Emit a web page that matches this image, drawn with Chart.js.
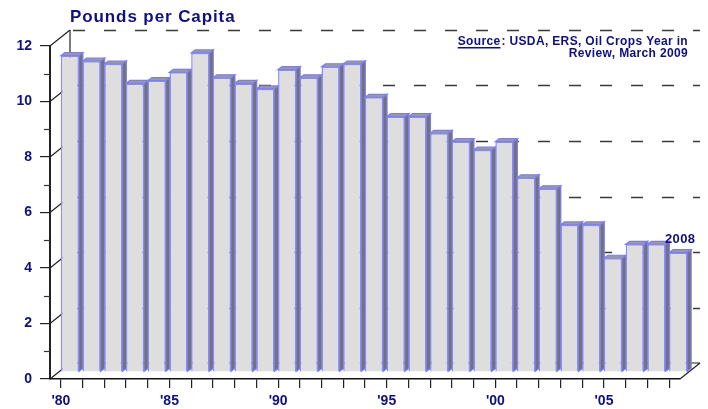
<!DOCTYPE html>
<html>
<head>
<meta charset="utf-8">
<script src="https://cdn.jsdelivr.net/npm/chart.js@4.4.1/dist/chart.umd.min.js"></script>
<style>
html,body{margin:0;padding:0;background:#fff;}
#wrap{position:relative;width:708px;height:409px;}
</style>
</head>
<body>
<div id="wrap"><canvas id="c" width="708" height="409"></canvas></div>
<script>
const years = ['1980','1981','1982','1983','1984','1985','1986','1987','1988','1989','1990','1991','1992','1993','1994','1995','1996','1997','1998','1999','2000','2001','2002','2003','2004','2005','2006','2007','2008'];
const pounds = [11.4, 11.2, 11.1, 10.4, 10.5, 10.8, 11.5, 10.6, 10.4, 10.2, 10.9, 10.6, 11.0, 11.1, 9.9, 9.2, 9.2, 8.6, 8.3, 8.0, 8.3, 7.0, 6.6, 5.3, 5.3, 4.1, 4.6, 4.6, 4.3];
const yTicks = [0, 2, 4, 6, 8, 10, 12];
const titleText = 'Pounds per Capita';
const sourceLine1 = ': USDA, ERS, Oil Crops Year in';
const sourceLine2 = 'Review, March 2009';
const lastLabel = '2008';

const NAVY = '#10107e';
const DEPTH = {x: 20, y: -16};   // back wall offset
const BARSHIFT = {x: 9, y: -7};  // bar plane offset
const FACE = {x: 4, y: -3};      // bar 3D face depth

const deco = {
  id: 'deco',
  beforeDatasetsDraw(chart) {
    const ctx = chart.ctx, ca = chart.chartArea;
    const ys = chart.scales.y;
    ctx.save();
    ctx.strokeStyle = '#3a3a3a';
    ctx.lineWidth = 1.5;
    ctx.setLineDash([12, 19]);
    ctx.lineDashOffset = -3;
    yTicks.forEach(v => {
      if (v === 0) return;
      const y = Math.round(ys.getPixelForValue(v) + DEPTH.y) + 0.5;
      ctx.beginPath();
      ctx.moveTo(ca.left + DEPTH.x, y);
      ctx.lineTo(ca.right + DEPTH.x, y);
      ctx.stroke();
    });
    ctx.setLineDash([]);
    ctx.strokeStyle = '#222';
    ctx.lineWidth = 1.2;
    yTicks.forEach(v => {
      const y = ys.getPixelForValue(v);
      ctx.beginPath();
      ctx.moveTo(ca.left, y);
      ctx.lineTo(ca.left + DEPTH.x, y + DEPTH.y);
      ctx.stroke();
    });
    ctx.beginPath();
    ctx.moveTo(ca.left + DEPTH.x, ys.getPixelForValue(12) + DEPTH.y);
    ctx.lineTo(ca.left + DEPTH.x, ys.getPixelForValue(0) + DEPTH.y);
    ctx.stroke();
    const y0 = ys.getPixelForValue(0);
    ctx.beginPath();
    ctx.moveTo(ca.left + DEPTH.x, y0 + DEPTH.y);
    ctx.lineTo(ca.right + DEPTH.x, y0 + DEPTH.y);
    ctx.moveTo(ca.right, y0);
    ctx.lineTo(ca.right + DEPTH.x, y0 + DEPTH.y);
    ctx.stroke();
    ctx.strokeStyle = '#333';
    ctx.lineWidth = 1.2;
    for (let v = 1; v < 12; v += 2) {
      const y = Math.round(ys.getPixelForValue(v)) + 0.5;
      ctx.beginPath();
      ctx.moveTo(ca.left - 6, y);
      ctx.lineTo(ca.left, y);
      ctx.stroke();
    }
    ctx.restore();

    ctx.save();
    ctx.translate(BARSHIFT.x, BARSHIFT.y);
    const meta = chart.getDatasetMeta(0);
    meta.data.forEach(bar => {
      const p = bar.getProps(['x', 'y', 'base', 'width'], true);
      const l = p.x - p.width / 2, r = p.x + p.width / 2, t = p.y, b = p.base;
      ctx.lineWidth = 1.2;
      ctx.strokeStyle = '#7c7cf0';
      ctx.fillStyle = '#737373';
      ctx.beginPath();
      ctx.moveTo(r, t);
      ctx.lineTo(r + FACE.x, t + FACE.y);
      ctx.lineTo(r + FACE.x, b + FACE.y);
      ctx.lineTo(r, b);
      ctx.closePath();
      ctx.fill(); ctx.stroke();
      ctx.fillStyle = '#9c9c94';
      ctx.beginPath();
      ctx.moveTo(l, t);
      ctx.lineTo(l + FACE.x, t + FACE.y);
      ctx.lineTo(r + FACE.x, t + FACE.y);
      ctx.lineTo(r, t);
      ctx.closePath();
      ctx.fill(); ctx.stroke();
    });
  },
  afterDatasetsDraw(chart) {
    const ctx = chart.ctx;
    ctx.restore();
    ctx.save();
    ctx.fillStyle = NAVY;
    ctx.textBaseline = 'alphabetic';
    ctx.font = 'bold 17px "Liberation Sans", Arial, sans-serif';
    ctx.letterSpacing = '0.9px';
    ctx.textAlign = 'left';
    ctx.fillText(titleText, 70, 22);

    ctx.font = 'bold 12px "Liberation Sans", Arial, sans-serif';
    ctx.letterSpacing = '0.35px';
    ctx.textAlign = 'right';
    const rx = 688;
    ctx.fillText(sourceLine1, rx, 45);
    const w1 = ctx.measureText(sourceLine1).width;
    const srcW = ctx.measureText('Source').width;
    ctx.fillText('Source', rx - w1 - 1, 45);
    ctx.fillRect(rx - w1 - 1 - srcW, 47, srcW, 1.5);
    ctx.fillText(sourceLine2, rx, 57);

    const meta = chart.getDatasetMeta(0);
    const last = meta.data[meta.data.length - 1];
    ctx.font = 'bold 13px "Liberation Sans", Arial, sans-serif';
    ctx.letterSpacing = '0.3px';
    ctx.textAlign = 'center';
    ctx.fillText(lastLabel, last.x + BARSHIFT.x + 2, last.y + BARSHIFT.y - 10);
    ctx.restore();
  }
};

new Chart(document.getElementById('c'), {
  type: 'bar',
  data: {
    labels: years,
    datasets: [{
      data: pounds,
      backgroundColor: '#dedede',
      borderColor: '#8a8aff',
      borderWidth: 1.5,
      barPercentage: 0.83,
      categoryPercentage: 1.0,
      clip: false
    }]
  },
  options: {
    responsive: false,
    animation: false,
    events: [],
    layout: {padding: {left: 0, right: 28, top: 46, bottom: 0}},
    plugins: {legend: {display: false}, tooltip: {enabled: false}, title: {display: false}},
    scales: {
      x: {
        grid: {display: true, drawOnChartArea: false, drawTicks: true, tickLength: 9, color: '#222', lineWidth: 1.2, offset: false},
        border: {display: true, color: '#111', width: 1.5},
        ticks: {
          autoSkip: false, maxRotation: 0, padding: 5, color: NAVY,
          font: {family: '"Liberation Sans", Arial, sans-serif', size: 14, weight: 'bold'},
          callback: function(val, i) {
            const y = years[i];
            return (parseInt(y) % 5 === 0) ? "'" + y.slice(2) : '';
          }
        },
        afterFit: s => { s.height = 30; }
      },
      y: {
        min: 0, max: 12,
        grid: {display: true, drawOnChartArea: false, drawTicks: true, tickLength: 10, color: '#222', lineWidth: 1.2},
        border: {display: true, color: '#222', width: 2},
        ticks: {
          stepSize: 2, padding: 8, color: NAVY,
          font: {family: '"Liberation Sans", Arial, sans-serif', size: 14, weight: 'bold'}
        },
        afterFit: s => { s.width = 50; }
      }
    }
  },
  plugins: [deco]
});
</script>
</body>
</html>
